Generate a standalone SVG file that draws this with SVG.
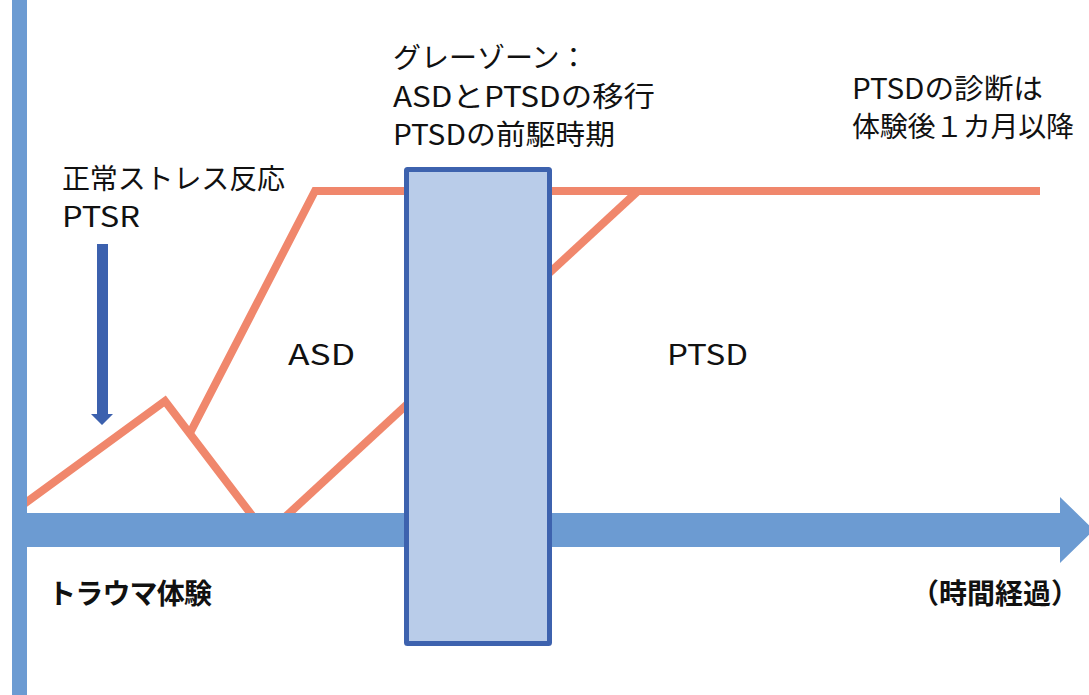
<svg xmlns="http://www.w3.org/2000/svg" width="1089" height="695" viewBox="0 0 1089 695">
<style>
.t{font-family:"Noto Sans CJK JP","Noto Sans",sans-serif;font-size:28px;fill:#111}
.b{font-weight:bold}
.o{fill:none;stroke:#f0876c;stroke-width:8;stroke-linejoin:miter}
</style>
<rect width="1089" height="695" fill="#fff"/>
<g id="connectors">
<polyline class="o" points="24,504 165,401 254,518"/>
<polyline class="o" points="190,433 315,191 1040,191"/>
<line class="o" x1="283" y1="519" x2="638" y2="191"/>
</g>
<g id="axes">
<rect x="12" y="0" width="15" height="695" fill="#6c9bd2"/>
<polygon points="27,513 1060,513 1060,497 1094,530 1060,563 1060,547 27,547" fill="#6c9bd2"/>
</g>
<g id="ptsr-arrow">
<polygon points="97,244 108,244 108,414 113,414 102,425 91,414 97,414" fill="#3c61ae"/>
</g>
<g id="grayzone">
<rect x="406.5" y="169.5" width="143" height="474" fill="#b9cce9" stroke="#3d62ae" stroke-width="5" rx="1"/>
</g>
<g id="labels">
<text class="t" x="62" y="189" textLength="223" lengthAdjust="spacing">正常ストレス反応</text>
<text class="t" x="62" y="227" textLength="78" lengthAdjust="spacingAndGlyphs">PTSR</text>
<text class="t" x="393" y="68">グレーゾーン：</text>
<text class="t" x="393" y="107" textLength="262" lengthAdjust="spacingAndGlyphs">ASDとPTSDの移行</text>
<text class="t" x="393" y="145" textLength="222" lengthAdjust="spacingAndGlyphs">PTSDの前駆時期</text>
<text class="t" x="852" y="99" textLength="191" lengthAdjust="spacingAndGlyphs">PTSDの診断は</text>
<text class="t" x="852" y="137" textLength="222" lengthAdjust="spacing">体験後１カ月以降</text>
<text class="t" x="288" y="365" textLength="67" lengthAdjust="spacingAndGlyphs">ASD</text>
<text class="t" x="667" y="365" textLength="81" lengthAdjust="spacingAndGlyphs">PTSD</text>
<text class="t b" x="48" y="604" textLength="164" lengthAdjust="spacing">トラウマ体験</text>
<text class="t b" x="911" y="604">（時間経過）</text>
</g>
</svg>
